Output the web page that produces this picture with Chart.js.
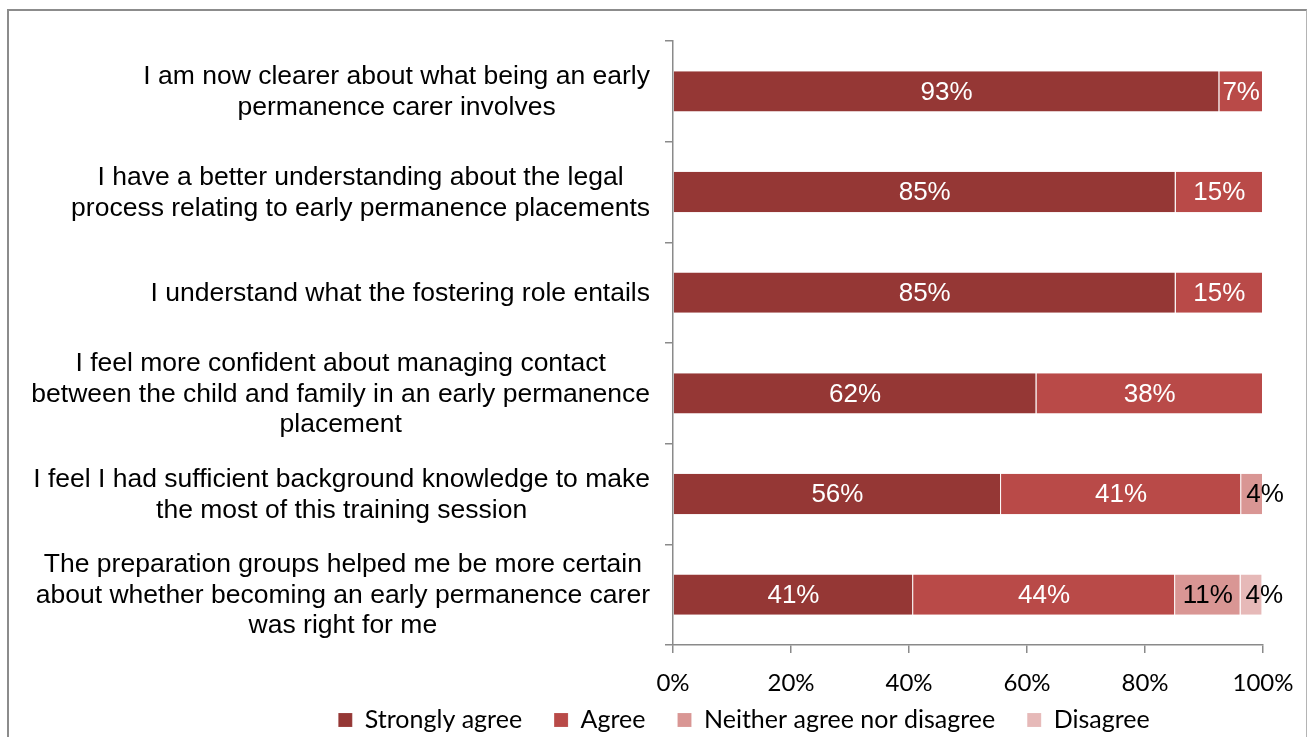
<!DOCTYPE html>
<html>
<head>
<meta charset="utf-8">
<script src="https://cdn.jsdelivr.net/npm/chart.js@4.4.1/dist/chart.umd.min.js"></script>
<style>
  html, body { margin: 0; padding: 0; background: #fff; overflow: hidden; }
  #wrap { position: relative; width: 1309px; height: 737px; }
  #frame {
    position: absolute; left: 7px; top: 9px; width: 1300px; height: 760px;
    border-left: 2px solid #8c8c8c; border-top: 2px solid #8c8c8c; border-right: 1px solid #b4b4b4;
    box-sizing: border-box;
  }
  canvas { position: absolute; left: 0; top: 0; }
</style>
</head>
<body>
<div id="wrap">
  <div id="frame"></div>
  <canvas id="c" width="1309" height="737"></canvas>
</div>
<script>
// Survey statements (one array entry per line of the label)
const statements = [
  ["I am now clearer about what being an early", "permanence carer involves"],
  ["I have a better understanding about the legal", "process relating to early permanence placements"],
  ["I understand what the fostering role entails"],
  ["I feel more confident about managing contact", "between the child and family in an early permanence", "placement"],
  ["I feel I had sufficient background knowledge to make", "the most of this training session"],
  ["The preparation groups helped me be more certain", "about whether becoming an early permanence carer", "was right for me"]
];

const seriesNames = ["Strongly agree", "Agree", "Neither agree nor disagree", "Disagree"];

// Share of respondents (%) per statement
const stronglyAgree = [92.6, 85.2, 85.2, 61.6, 55.6, 40.7];
const agree         = [7.4, 14.8, 14.8, 38.4, 40.7, 44.4];
const neither       = [0, 0, 0, 0, 3.7, 11.1];
const disagree      = [0, 0, 0, 0, 0, 3.7];

const xTicks = [0, 20, 40, 60, 80, 100];

const seriesColors = ["#953735", "#B94A48", "#D99694", "#E6B9B8"];
const labelColors  = ["#ffffff", "#ffffff", "#000000", "#000000"];

const AXIS_GREY = "#8a8a8a";
const ARIAL = '"Liberation Sans", Arial, sans-serif';
const LEGEND_FONT = 25;
const LEGEND_GAP = 32;
const LEGEND_CENTER_Y = 720;

// Multi-line statement labels, each block centred on itself and right-aligned to the axis
const statementLabels = {
  id: "statementLabels",
  afterDraw(chart) {
    const ctx = chart.ctx;
    const y = chart.scales.y;
    ctx.save();
    ctx.font = "26.5px " + ARIAL;
    ctx.fillStyle = "#000";
    ctx.textAlign = "center";
    ctx.textBaseline = "middle";
    const right = chart.chartArea.left - 23;
    const lineH = 30.5;
    statements.forEach((lines, i) => {
      const cy = y.getPixelForValue(i);
      const w = Math.max(...lines.map(l => ctx.measureText(l).width));
      const cx = right - w / 2;
      lines.forEach((l, j) => ctx.fillText(l, cx, cy + (j - (lines.length - 1) / 2) * lineH + 1));
    });
    ctx.restore();
  }
};

// Percentage labels inside each segment
const valueLabels = {
  id: "valueLabels",
  afterDatasetsDraw(chart) {
    const ctx = chart.ctx;
    ctx.save();
    ctx.font = "26px " + ARIAL;
    ctx.textBaseline = "middle";
    chart.data.datasets.forEach((ds, di) => {
      const meta = chart.getDatasetMeta(di);
      meta.data.forEach((bar, i) => {
        const v = ds.data[i];
        if (!v) return;
        const t = Math.round(v) + "%";
        const w = ctx.measureText(t).width;
        const left = Math.min(bar.x, bar.base);
        const width = Math.abs(bar.x - bar.base);
        ctx.fillStyle = labelColors[di];
        if (w + 4 > width) {
          ctx.textAlign = "left";
          ctx.fillText(t, left + 5, bar.y + 1);
        } else {
          ctx.textAlign = "center";
          ctx.fillText(t, left + width / 2, bar.y + 1);
        }
      });
    });
    ctx.restore();
  }
};

// Keep the legend row at a fixed baseline near the bottom edge
const legendRow = {
  id: "legendRow",
  afterLayout(chart) {
    const lg = chart.legend;
    if (!lg) return;
    lg.top = LEGEND_CENTER_Y - LEGEND_GAP - LEGEND_FONT / 2;
    lg.bottom = chart.height;
    lg.height = lg.bottom - lg.top;
  }
};

const seriesValues = [stronglyAgree, agree, neither, disagree];

new Chart(document.getElementById("c"), {
  type: "bar",
  data: {
    labels: statements,
    datasets: seriesNames.map((name, i) => ({
      label: name,
      data: seriesValues[i],
      backgroundColor: seriesColors[i],
      borderColor: "rgba(255,255,255,0.55)",
      borderWidth: { right: 1, left: 0, top: 0, bottom: 0 },
      borderSkipped: false,
      categoryPercentage: 1,
      barPercentage: 0.4
    }))
  },
  options: {
    indexAxis: "y",
    responsive: false,
    animation: false,
    layout: { padding: { left: 225, right: 46, top: 41, bottom: 0 } },
    scales: {
      x: {
        stacked: true,
        min: 0,
        max: 100,
        afterBuildTicks: s => { s.ticks = xTicks.map(v => ({ value: v })); },
        afterFit: s => { s.height = 50; s.paddingLeft = 0; s.paddingRight = 0; },
        grid: { drawOnChartArea: false, drawTicks: true, tickLength: 8, color: AXIS_GREY, lineWidth: 1.5 },
        border: { color: AXIS_GREY, width: 1.5 },
        ticks: {
          callback: v => v + "%",
          color: "#000",
          padding: 18,
          maxRotation: 0,
          font: { family: "Lato", size: 24, lineHeight: 1 }
        }
      },
      y: {
        stacked: true,
        offset: true,
        afterFit: s => { s.width = 673 - 225; },
        grid: { offset: true, drawOnChartArea: false, drawTicks: true, tickLength: 8, color: AXIS_GREY, lineWidth: 1.5 },
        border: { color: AXIS_GREY, width: 1.5 },
        ticks: { display: false }
      }
    },
    plugins: {
      legend: {
        position: "bottom",
        maxHeight: 42,
        labels: {
          boxWidth: 14,
          boxHeight: 14,
          padding: LEGEND_GAP,
          color: "#000",
          font: { family: "Lato", size: LEGEND_FONT }
        }
      },
      tooltip: { enabled: false }
    }
  },
  plugins: [valueLabels, statementLabels, legendRow]
});
</script>
</body>
</html>
